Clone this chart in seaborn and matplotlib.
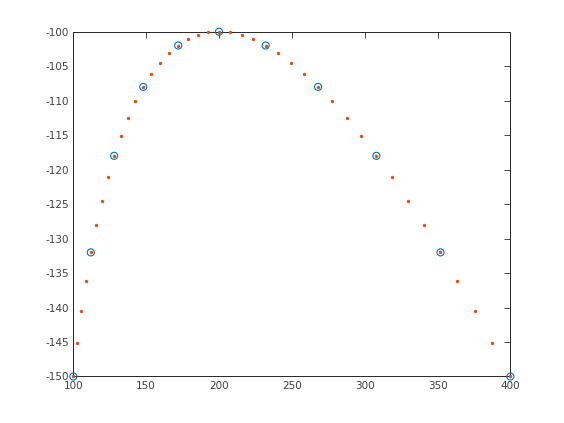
import matplotlib
matplotlib.use("Agg")
import matplotlib.pyplot as plt
import seaborn as sns

# coarse samples (open blue circles)
coarse_x = [100, 112, 128, 148, 172, 200, 232, 268, 308, 352, 400]
coarse_y = [-150, -132, -118, -108, -102, -100, -102, -108, -118, -132, -150]

# fine samples (small orange dots)
fine_x = [100, 102.6, 105.5, 108.6, 112, 115.6, 119.5, 123.6, 128, 132.6,
          137.5, 142.6, 148, 153.6, 159.5, 165.6, 172, 178.6, 185.5, 192.6,
          200, 207.6, 215.5, 223.6, 232, 240.6, 249.5, 258.6, 268, 277.6,
          287.5, 297.6, 308, 318.6, 329.5, 340.6, 352, 363.6, 375.5, 387.6, 400]
fine_y = [-150, -145.1, -140.5, -136.1, -132, -128.1, -124.5, -121.1, -118, -115.1,
          -112.5, -110.1, -108, -106.1, -104.5, -103.1, -102, -101.1, -100.5, -100.1,
          -100, -100.1, -100.5, -101.1, -102, -103.1, -104.5, -106.1, -108, -110.1,
          -112.5, -115.1, -118, -121.1, -124.5, -128.1, -132, -136.1, -140.5, -145.1, -150]

xticks = [100, 150, 200, 250, 300, 350, 400]
yticks = list(range(-150, -99, 5))

sns.set_style("white")
plt.rcParams['axes.unicode_minus'] = False
plt.rcParams['font.family'] = ['DejaVu Sans']

blue = '#0072BD'
orange = '#D95319'
dark = '#262626'

fig = plt.figure(figsize=(5.64, 4.23), dpi=100)
ax = fig.add_axes([0.13, 0.11, 0.775, 0.815])

sns.scatterplot(x=coarse_x, y=coarse_y, marker='o', s=26, facecolors='none',
                edgecolors=blue, linewidth=0.8, clip_on=False, zorder=3, ax=ax)
sns.scatterplot(x=fine_x, y=fine_y, marker='o', s=6, color=orange,
                edgecolor=orange, linewidth=0, clip_on=False, zorder=4, ax=ax)

ax.set_xlim(100, 400)
ax.set_ylim(-150, -100)
ax.set_xticks(xticks)
ax.set_yticks(yticks)
ax.tick_params(direction='in', length=4, width=0.6, colors=dark, labelcolor='#404040',
               labelsize=7.5, top=True, right=True, labeltop=False, labelright=False, pad=3)
for sp in ax.spines.values():
    sp.set_color(dark)
    sp.set_linewidth(0.7)
    sp.set_visible(True)

fig.savefig('out.png', dpi=100)
